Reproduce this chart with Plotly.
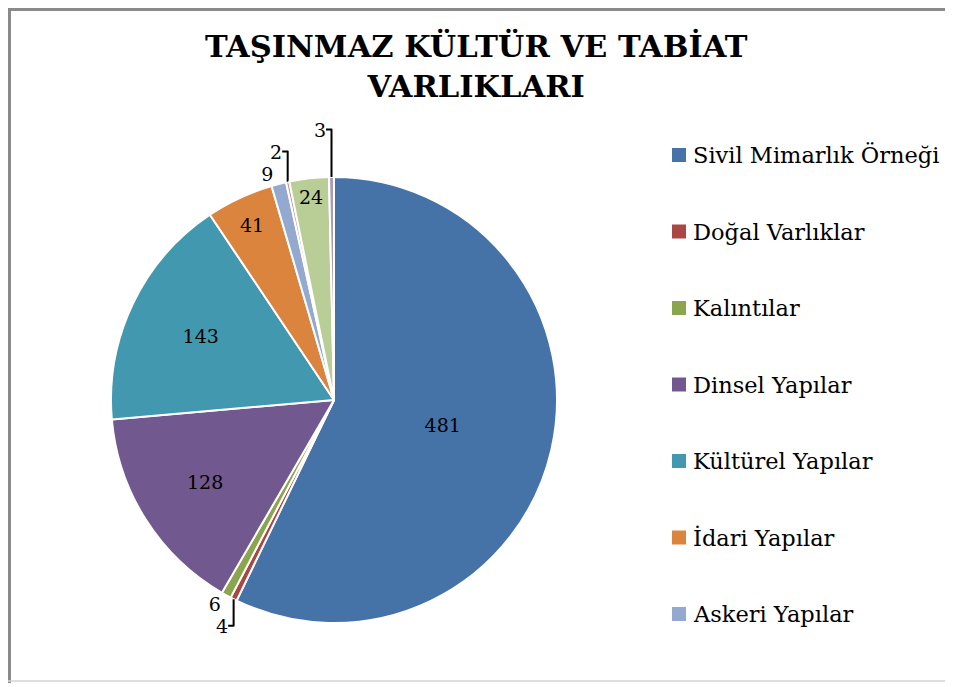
import plotly.graph_objects as go

# the page body adds an 8px margin, so the figure is sized to fit the window
W, H = 937, 675
OFF = 8  # page offset of the figure inside the window
SERIF = "DejaVu Serif"

labels = ["Sivil Mimarlık Örneği", "Doğal Varlıklar", "Kalıntılar", "Dinsel Yapılar",
          "Kültürel Yapılar", "İdari Yapılar", "Askeri Yapılar",
          "Endüstriyel ve Ticari Yapılar", "Mezarlıklar", "Şehitlikler"]
values = [481, 4, 6, 128, 143, 41, 9, 2, 24, 3]
colors = ["#4572A7", "#AA4643", "#89A54E", "#71588F", "#4198AF", "#DB843D",
          "#93A9CF", "#D19392", "#B9CD96", "#A99BBD"]
legend_count = 7  # legend in the original is cut off after 7 entries
text_pos = ["inside" if v >= 20 else "outside" for v in values]


def px(x):  # window pixel -> paper x
    return (x - OFF) / W


def py(y):  # window pixel -> paper y
    return 1 - (y - OFF) / H


fig = go.Figure()
fig.add_trace(go.Pie(
    labels=labels, values=values, sort=False, direction="clockwise", rotation=0,
    marker=dict(colors=colors, line=dict(color="white", width=2)),
    textinfo="value", textposition=text_pos, insidetextorientation="horizontal",
    textfont=dict(family=SERIF, size=19, color="black"),
    showlegend=False,
    domain=dict(x=[px(111), px(557)], y=[py(623), py(177)]),
))

shapes = [
    dict(type="line", xref="paper", yref="paper", x0=1.5 / W, x1=1.5 / W, y0=0, y1=1,
         line=dict(color="#8a8a8a", width=3)),
    dict(type="line", xref="paper", yref="paper", x0=0, x1=1, y0=1 - 1.5 / H, y1=1 - 1.5 / H,
         line=dict(color="#8a8a8a", width=3)),
    dict(type="line", xref="paper", yref="paper", x0=0, x1=1, y0=py(681), y1=py(681),
         line=dict(color="#d4d4d4", width=1.5)),
]
annotations = [
    dict(text="<b>TAŞINMAZ KÜLTÜR VE TABİAT<br>VARLIKLARI</b>", x=px(476.5), y=py(26),
         xref="paper", yref="paper", xanchor="center", yanchor="top", showarrow=False,
         font=dict(family=SERIF, size=30.5, color="black"), align="center"),
]
# legend (drawn manually; original shows only the first 7 entries)
leg_top, leg_step = 155, 76.5
for i in range(legend_count):
    yc = leg_top + i * leg_step
    shapes.append(dict(type="rect", xref="paper", yref="paper", x0=px(672), x1=px(686),
                       y0=py(yc + 7), y1=py(yc - 7),
                       fillcolor=colors[i], line=dict(width=0)))
    annotations.append(dict(text=labels[i], x=px(691), y=py(yc), xref="paper", yref="paper",
                            xanchor="left", yanchor="middle", showarrow=False,
                            font=dict(family=SERIF, size=22.5, color="black")))

fig.update_layout(
    width=W, height=H, margin=dict(l=0, r=0, t=0, b=0),
    paper_bgcolor="white", plot_bgcolor="white",
    shapes=shapes, annotations=annotations,
)
fig.write_html("out.html")
